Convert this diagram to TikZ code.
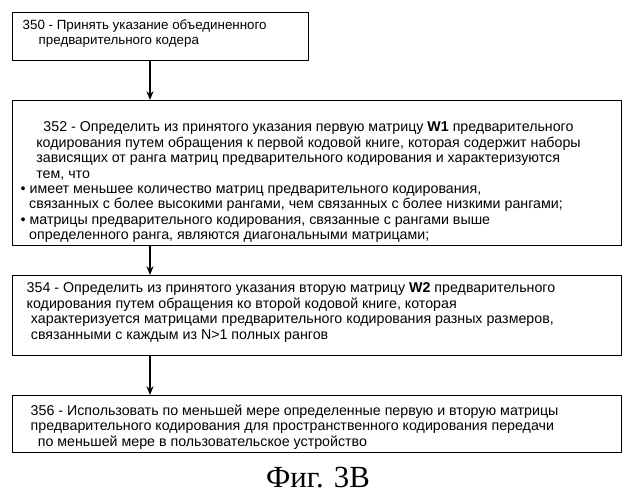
\documentclass[tikz,border=0pt]{standalone}
\usepackage{fontspec}
\setmainfont{Liberation Sans}
\newfontfamily\capfont{Liberation Serif}
\usetikzlibrary{arrows.meta,positioning}

\tikzset{
  stepbox/.style={draw, thick, rectangle, align=left, anchor=north west,
    font=\fontsize{8.1}{8.8}\selectfont, inner sep=0pt},
  flow/.style={-{Stealth[length=5pt,width=4pt]}, thick}
}

\begin{document}
\begin{tikzpicture}[x=0.02cm, y=-0.02cm]
        \useasboundingbox (0,0) rectangle (637,500);

        % boxes
        \node[stepbox, minimum width=296*0.02cm, minimum height=48*0.02cm] (b350) at (12,12) {};
        \node[stepbox, minimum width=609*0.02cm, minimum height=145*0.02cm] (b352) at (12,100) {};
        \node[stepbox, minimum width=609*0.02cm, minimum height=80*0.02cm] (b354) at (12,275) {};
        \node[stepbox, minimum width=609*0.02cm, minimum height=57*0.02cm] (b356) at (12,395) {};

        % texts
        \node[stepbox, draw=none, font=\fontsize{7.6}{8.8}\selectfont] (t350) at (22,19) {350 - Принять указание объединенного\\
          \hspace{1.2em}предварительного кодера};
        \node[stepbox, draw=none] (t352) at (20,121) {\hspace{1.6em}352 - Определить из принятого указания первую матрицу \textbf{W1} предварительного\\
          \hspace{1.1em}кодирования путем обращения к первой кодовой книге, которая содержит наборы\\
          \hspace{1.1em}зависящих от ранга матриц предварительного кодирования и характеризуются\\
          \hspace{1.1em}тем, что\\
          • имеет меньшее количество матриц предварительного кодирования,\\
          \hspace{0.6em}связанных с более высокими рангами, чем связанных с более низкими рангами;\\
          • матрицы предварительного кодирования, связанные с рангами выше\\
          \hspace{0.6em}определенного ранга, являются диагональными матрицами;};
        \node[stepbox, draw=none] (t354) at (26,282) {354 - Определить из принятого указания вторую матрицу \textbf{W2} предварительного\\
          кодирования путем обращения ко второй кодовой книге, которая\\
          \hspace{0.3em}характеризуется матрицами предварительного кодирования разных размеров,\\
          \hspace{0.3em}связанными с каждым из N>1 полных рангов};
        \node[stepbox, draw=none] (t356) at (30,404) {356 - Использовать по меньшей мере определенные первую и вторую матрицы\\
          предварительного кодирования для пространственного кодирования передачи\\
          \hspace{0.5em}по меньшей мере в пользовательское устройство};

        % arrows
        \draw[flow] (b350.south west) ++(138,0) coordinate (a1) -- (a1 |- b352.north);
        \draw[flow] (b352.south west) ++(138,0) coordinate (a2) -- (a2 |- b354.north);
        \draw[flow] (b354.south west) ++(138,0) coordinate (a3) -- (a3 |- b356.north);

        % caption
        \node[font=\capfont\fontsize{17.5}{20}\selectfont] (cap) at (318,478) {Фиг. 3В};
\end{tikzpicture}
\end{document}
